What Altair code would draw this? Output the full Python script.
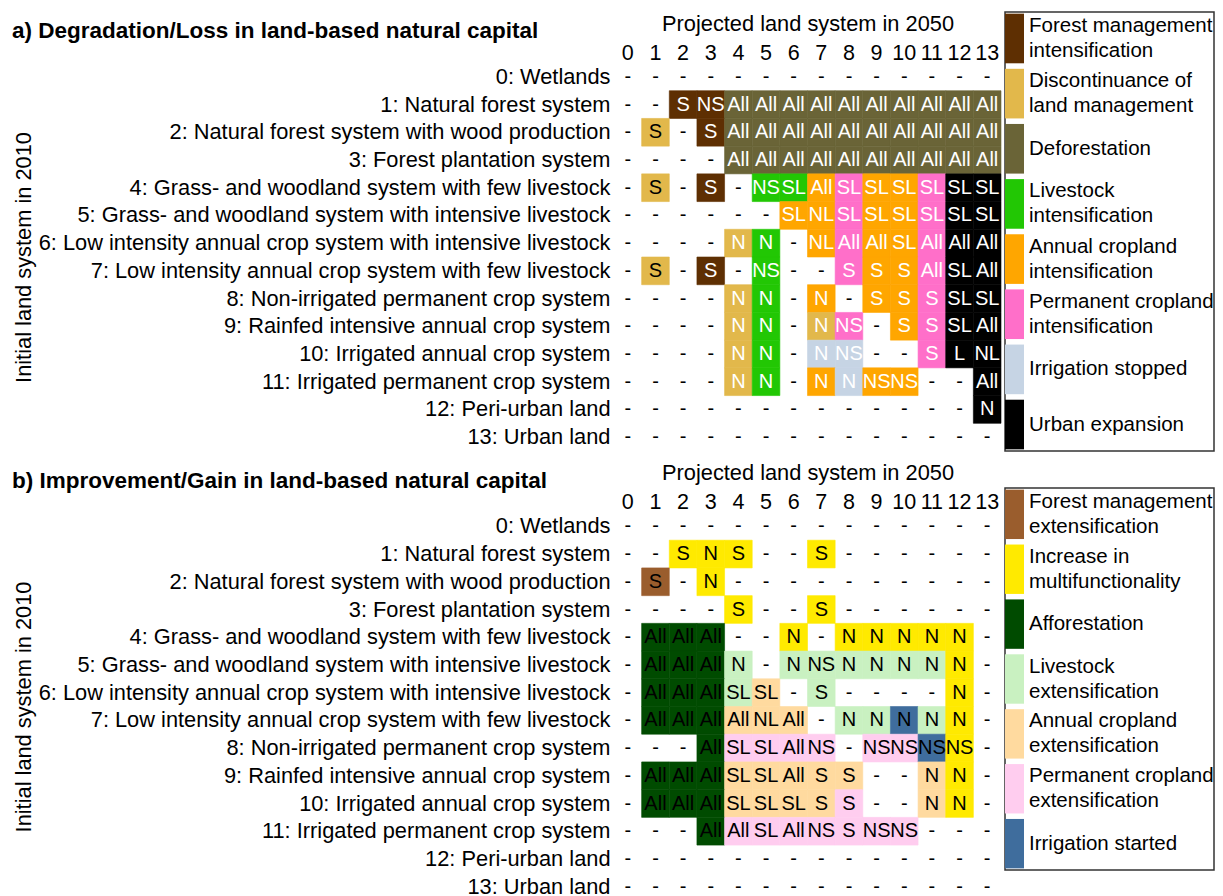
import altair as alt
import pandas as pd

col_labels = [str(i) for i in range(14)]
row_labels = [
    "0: Wetlands",
    "1: Natural forest system",
    "2: Natural forest system with wood production",
    "3: Forest plantation system",
    "4: Grass- and woodland system with few livestock",
    "5: Grass- and woodland system with intensive livestock",
    "6: Low intensity annual crop system with intensive livestock",
    "7: Low intensity annual crop system with few livestock",
    "8: Non-irrigated permanent crop system",
    "9: Rainfed intensive annual crop system",
    "10: Irrigated annual crop system",
    "11: Irrigated permanent crop system",
    "12: Peri-urban land",
    "13: Urban land",
]

a_title = "a) Degradation/Loss in land-based natural capital"
b_title = "b) Improvement/Gain in land-based natural capital"
x_title = "Projected land system in 2050"
y_title = "Initial land system in 2010"

# ---- panel a: cell texts and categories ----
a_text = [
    "- - - - - - - - - - - - - -",
    "- - S NS All All All All All All All All All All",
    "- S - S All All All All All All All All All All",
    "- - - - All All All All All All All All All All",
    "- S - S - NS SL All SL SL SL SL SL SL",
    "- - - - - - SL NL SL SL SL SL SL SL",
    "- - - - N N - NL All All SL All All All",
    "- S - S - NS - - S S S All SL All",
    "- - - - N N - N - S S S SL SL",
    "- - - - N N - N NS - S S SL All",
    "- - - - N N - N NS - - S L NL",
    "- - - - N N - N N NS NS - - All",
    "- - - - - - - - - - - - - N",
    "- - - - - - - - - - - - - -",
]
a_cat = [
    ". . . . . . . . . . . . . .",
    ". . F F D D D D D D D D D D",
    ". C . F D D D D D D D D D D",
    ". . . . D D D D D D D D D D",
    ". C . F . G G O P O O P U U",
    ". . . . . . O O P O O P U U",
    ". . . . C G . O P O O P U U",
    ". C . F . G . . P O O P U U",
    ". . . . C G . O . O O P U U",
    ". . . . C G . C P . O P U U",
    ". . . . C G . I I . . P U U",
    ". . . . C G . O I O O . . U",
    ". . . . . . . . . . . . . U",
    ". . . . . . . . . . . . . .",
]
a_black_text_cells = [(2, 1), (4, 1), (7, 1)]

a_codes = ["F", "C", "D", "G", "O", "P", "I", "U"]
a_names = [
    ["Forest management", "intensification"],
    ["Discontinuance of", "land management"],
    ["Deforestation"],
    ["Livestock", "intensification"],
    ["Annual cropland", "intensification"],
    ["Permanent cropland", "intensification"],
    ["Irrigation stopped"],
    ["Urban expansion"],
]
a_colors = ["#5e2f02", "#e2b84b", "#6a6437", "#22c704", "#ffa600",
            "#ff6fc9", "#c6d4e4", "#000000"]

# ---- panel b ----
b_text = [
    "- - - - - - - - - - - - - -",
    "- - S N S - - S - - - - - -",
    "- S - N - - - - - - - - - -",
    "- - - - S - - S - - - - - -",
    "- All All All - - N - N N N N N -",
    "- All All All N - N NS N N N N N -",
    "- All All All SL SL - S - - - - N -",
    "- All All All All NL All - N N N N N -",
    "- - - All SL SL All NS - NS NS NS NS -",
    "- All All All SL SL All S S - - N N -",
    "- All All All SL SL SL S S - - N N -",
    "- - - All All SL All NS S NS NS - - -",
    "- - - - - - - - - - - - - -",
    "- - - - - - - - - - - - - -",
]
b_cat = [
    ". . . . . . . . . . . . . .",
    ". . Y Y Y . . Y . . . . . .",
    ". B . Y . . . . . . . . . .",
    ". . . . Y . . Y . . . . . .",
    ". A A A . . Y . Y Y Y Y Y .",
    ". A A A L . L L L L L L Y .",
    ". A A A L R . L . . . . Y .",
    ". A A A R R R . L L W L Y .",
    ". . . A K K K K . K K W Y .",
    ". A A A R R R R R . . R Y .",
    ". A A A R R R R K . . R Y .",
    ". . . A K K K K K K K . . .",
    ". . . . . . . . . . . . . .",
    ". . . . . . . . . . . . . .",
]
b_black_text_cells = []

b_codes = ["B", "Y", "A", "L", "R", "K", "W"]
b_names = [
    ["Forest management", "extensification"],
    ["Increase in", "multifunctionality"],
    ["Afforestation"],
    ["Livestock", "extensification"],
    ["Annual cropland", "extensification"],
    ["Permanent cropland", "extensification"],
    ["Irrigation started"],
]
b_colors = ["#9a5d2d", "#ffea00", "#004b00", "#c9f1c1", "#ffda9f",
            "#ffcdef", "#3f6d9d"]

all_codes = a_codes + b_codes
all_colors = a_colors + b_colors

FS = 21.8      # labels, axis titles
LEG_FS = 20.5  # legend text
LEG_LH = 25    # legend line height
CELL_FS = 20   # text inside the grid
FONT = "Liberation Sans"


def cells(text_rows, cat_rows, black_cells, default_ink):
    recs = []
    for r, (tr, cr) in enumerate(zip(text_rows, cat_rows)):
        for c, (t, k) in enumerate(zip(tr.split(), cr.split())):
            if k == ".":
                ink = "black"
            else:
                ink = "black" if (r, c) in black_cells else default_ink
            recs.append({"row": row_labels[r], "col": col_labels[c],
                         "txt": t, "cat": k, "ink": ink})
    return pd.DataFrame(recs)


def panel(df, title_text):
    x = alt.X("col:O",
              scale=alt.Scale(domain=col_labels, paddingInner=0, paddingOuter=0),
              axis=alt.Axis(orient="top", title=x_title, labelAngle=0,
                            labelPadding=4, labelBaseline="alphabetic",
                            ticks=False, tickSize=0,
                            domain=False, grid=False, labelFontSize=21.5,
                            titleFontSize=FS, titleFontWeight="normal",
                            titleY=-33, titleBaseline="alphabetic",
                            labelColor="black", titleColor="black"))
    y = alt.Y("row:O",
              scale=alt.Scale(domain=row_labels, paddingInner=0, paddingOuter=0),
              axis=alt.Axis(title=y_title, labelPadding=4, ticks=False,
                            tickSize=0, domain=False, grid=False,
                            labelFontSize=FS, labelLimit=0,
                            titleFontSize=FS, titleFontWeight="normal",
                            titleX=-584, titleBaseline="alphabetic",
                            labelColor="black", titleColor="black"))
    base = alt.Chart(df).encode(x=x, y=y)
    cscale = alt.Scale(domain=all_codes, range=all_colors)
    rects = base.transform_filter("datum.cat != '.'").mark_rect(strokeWidth=0.6).encode(
        color=alt.Color("cat:N", scale=cscale, legend=None),
        stroke=alt.Stroke("cat:N", scale=cscale, legend=None),
    )
    txt_k = base.transform_filter("datum.ink == 'black'").mark_text(
        fontSize=CELL_FS, color="black").encode(text="txt:N")
    txt_w = base.transform_filter("datum.ink == 'white'").mark_text(
        fontSize=CELL_FS, color="white").encode(text="txt:N")
    ttl = alt.Chart(pd.DataFrame({"t": [title_text]})).mark_text(
        align="left", baseline="alphabetic", fontSize=22.5, fontWeight="bold",
        color="black").encode(x=alt.value(-602), y=alt.value(-25), text="t:N")
    return alt.layer(rects, txt_k, txt_w, ttl).properties(width=387, height=388)


def legend(codes, names, h):
    df = pd.DataFrame({"code": codes, "label": names,
                       "nlines": [len(n) for n in names]})
    y = alt.Y("code:N", sort=codes,
              scale=alt.Scale(domain=codes, paddingInner=0.1, paddingOuter=0.03),
              axis=None)
    cscale = alt.Scale(domain=all_codes, range=all_colors)
    sw = alt.Chart(df).mark_rect().encode(
        y=y, x=alt.value(0), x2=alt.value(19),
        color=alt.Color("code:N", scale=cscale, legend=None))
    tx1 = alt.Chart(df).transform_filter("datum.nlines == 1").mark_text(
        align="left", baseline="middle", fontSize=LEG_FS,
        lineHeight=LEG_LH, color="black").encode(
        y=y, x=alt.value(24), text="label:N")
    tx2 = alt.Chart(df).transform_filter("datum.nlines == 2").mark_text(
        align="left", baseline="middle", fontSize=LEG_FS, dy=-LEG_LH / 2,
        lineHeight=LEG_LH, color="black").encode(
        y=y, x=alt.value(24), text="label:N")
    return alt.layer(sw, tx1, tx2).properties(
        width=209, height=h,
        view=alt.ViewBackground(stroke="#333333", strokeWidth=1.5))


df_a = cells(a_text, a_cat, a_black_text_cells, "white")
df_b = cells(b_text, b_cat, b_black_text_cells, "black")

pa = panel(df_a, a_title)
pb = panel(df_b, b_title)
la = legend(a_codes, a_names, 439)
lb = legend(b_codes, b_names, 382)

# tiny empty view on top of the left column so that the legend column can
# start above the first panel's plot area
spacer = alt.Chart(pd.DataFrame({"t": [""]})).mark_text(fontSize=0).encode(
    text="t:N").properties(width=1, height=1)

panels = alt.vconcat(pa, pb, spacing=11.5)
left_col = alt.vconcat(spacer, panels, spacing=0)
right_col = alt.vconcat(la, lb, spacing=35)

chart = alt.hconcat(left_col, right_col, spacing=2).properties(
    padding={"left": 4, "top": 3, "right": 0, "bottom": 0}
).configure(font=FONT).configure_view(stroke=None)

chart.save("out.html", embed_options={"renderer": "svg", "actions": False})
